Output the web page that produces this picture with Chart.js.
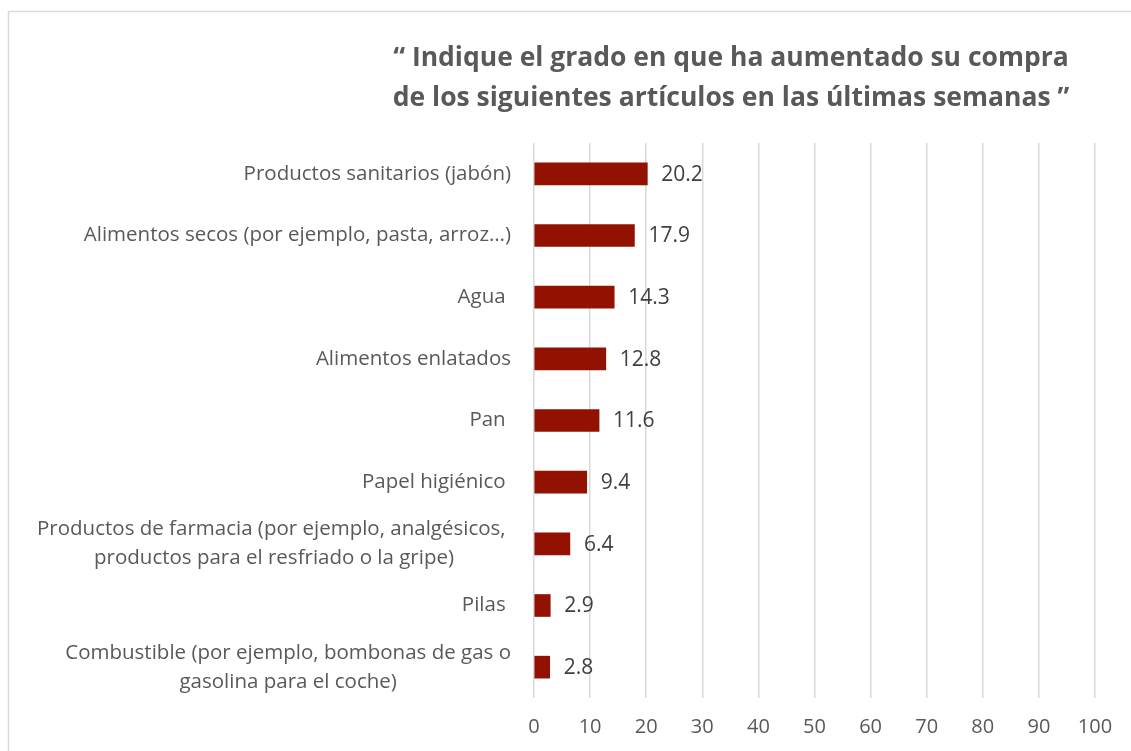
<!DOCTYPE html>
<html>
<head>
<meta charset="utf-8">
<script src="https://cdn.jsdelivr.net/npm/chart.js@4"></script>
<style>
  html, body { margin: 0; padding: 0; background: #ffffff; }
  #wrap { width: 1131px; height: 751px; position: relative; }
</style>
</head>
<body>
<div id="wrap"><canvas id="c" width="1131" height="751"></canvas></div>
<script>
const titleLines = [
  "\u201C Indique el grado en que ha aumentado su compra",
  "de los siguientes art\u00EDculos en las \u00FAltimas semanas \u201D"
];
const categories = [
  ["Productos sanitarios (jab\u00F3n)"],
  ["Alimentos secos (por ejemplo, pasta, arroz\u2026)"],
  ["Agua "],
  ["Alimentos enlatados"],
  ["Pan "],
  ["Papel higi\u00E9nico "],
  ["Productos de farmacia (por ejemplo, analg\u00E9sicos, ", "productos para el resfriado o la gripe)"],
  ["Pilas "],
  ["Combustible (por ejemplo, bombonas de gas o", "gasolina para el coche)"]
];
const values = [20.2, 17.9, 14.3, 12.8, 11.6, 9.4, 6.4, 2.9, 2.8];
const xTicks = [0, 10, 20, 30, 40, 50, 60, 70, 80, 90, 100];

const FONT = "'Open Sans', Lato, sans-serif";
const TEXT = "#595959";

const decor = {
  id: 'decor',
  beforeDraw(chart) {
    const ctx = chart.ctx;
    ctx.save();
    ctx.fillStyle = '#ffffff';
    ctx.fillRect(0, 0, chart.width, chart.height);
    ctx.strokeStyle = '#d9d9d9';
    ctx.lineWidth = 1.5;
    ctx.strokeRect(8.5, 11.5, chart.width + 20, chart.height + 20);
    ctx.restore();
  },
  afterDraw(chart) {
    const ctx = chart.ctx;
    ctx.save();
    // title
    ctx.fillStyle = TEXT;
    ctx.font = "bold 26.5px " + FONT;
    ctx.textAlign = 'center';
    ctx.textBaseline = 'middle';
    ctx.fillText(titleLines[0], 731, 58);
    ctx.fillText(titleLines[1], 731, 98);
    // category labels: block right-aligned, lines centred
    const yScale = chart.scales.y;
    ctx.font = "20.5px " + FONT;
    ctx.fillStyle = TEXT;
    const lh = 29;
    categories.forEach((lines, i) => {
      const yc = yScale.getPixelForValue(i);
      const w = Math.max(...lines.map(l => ctx.measureText(l).width));
      const cx = 511 - w / 2;
      lines.forEach((l, j) => {
        const y = yc + (j - (lines.length - 1) / 2) * lh;
        ctx.fillText(l, cx, y);
      });
    });
    // data labels
    const meta = chart.getDatasetMeta(0);
    ctx.font = "21px " + FONT;
    ctx.fillStyle = '#404040';
    ctx.textAlign = 'left';
    meta.data.forEach((bar, i) => {
      ctx.fillText(values[i].toFixed(1), bar.x + 14, bar.y + 1);
    });
    ctx.restore();
  }
};

new Chart(document.getElementById('c'), {
  type: 'bar',
  data: {
    labels: categories,
    datasets: [{
      data: values,
      backgroundColor: '#921100',
      borderWidth: 0,
      barThickness: 22
    }]
  },
  options: {
    indexAxis: 'y',
    responsive: false,
    animation: false,
    layout: { padding: { top: 143, right: 36, left: 0, bottom: 0 } },
    plugins: { legend: { display: false }, title: { display: false }, tooltip: { enabled: false } },
    scales: {
      x: {
        min: 0, max: 100,
        afterBuildTicks: s => { s.ticks = xTicks.map(v => ({ value: v })); },
        afterFit: s => { s.height = 53; },
        grid: { color: '#d9d9d9', lineWidth: 1.5, drawTicks: false },
        border: { display: false },
        ticks: { color: TEXT, font: { family: FONT, size: 20 }, padding: 17 }
      },
      y: {
        afterFit: s => { s.width = 534; },
        grid: { display: false, drawTicks: false },
        border: { display: false },
        ticks: { display: false }
      }
    }
  },
  plugins: [decor]
});
</script>
</body>
</html>
